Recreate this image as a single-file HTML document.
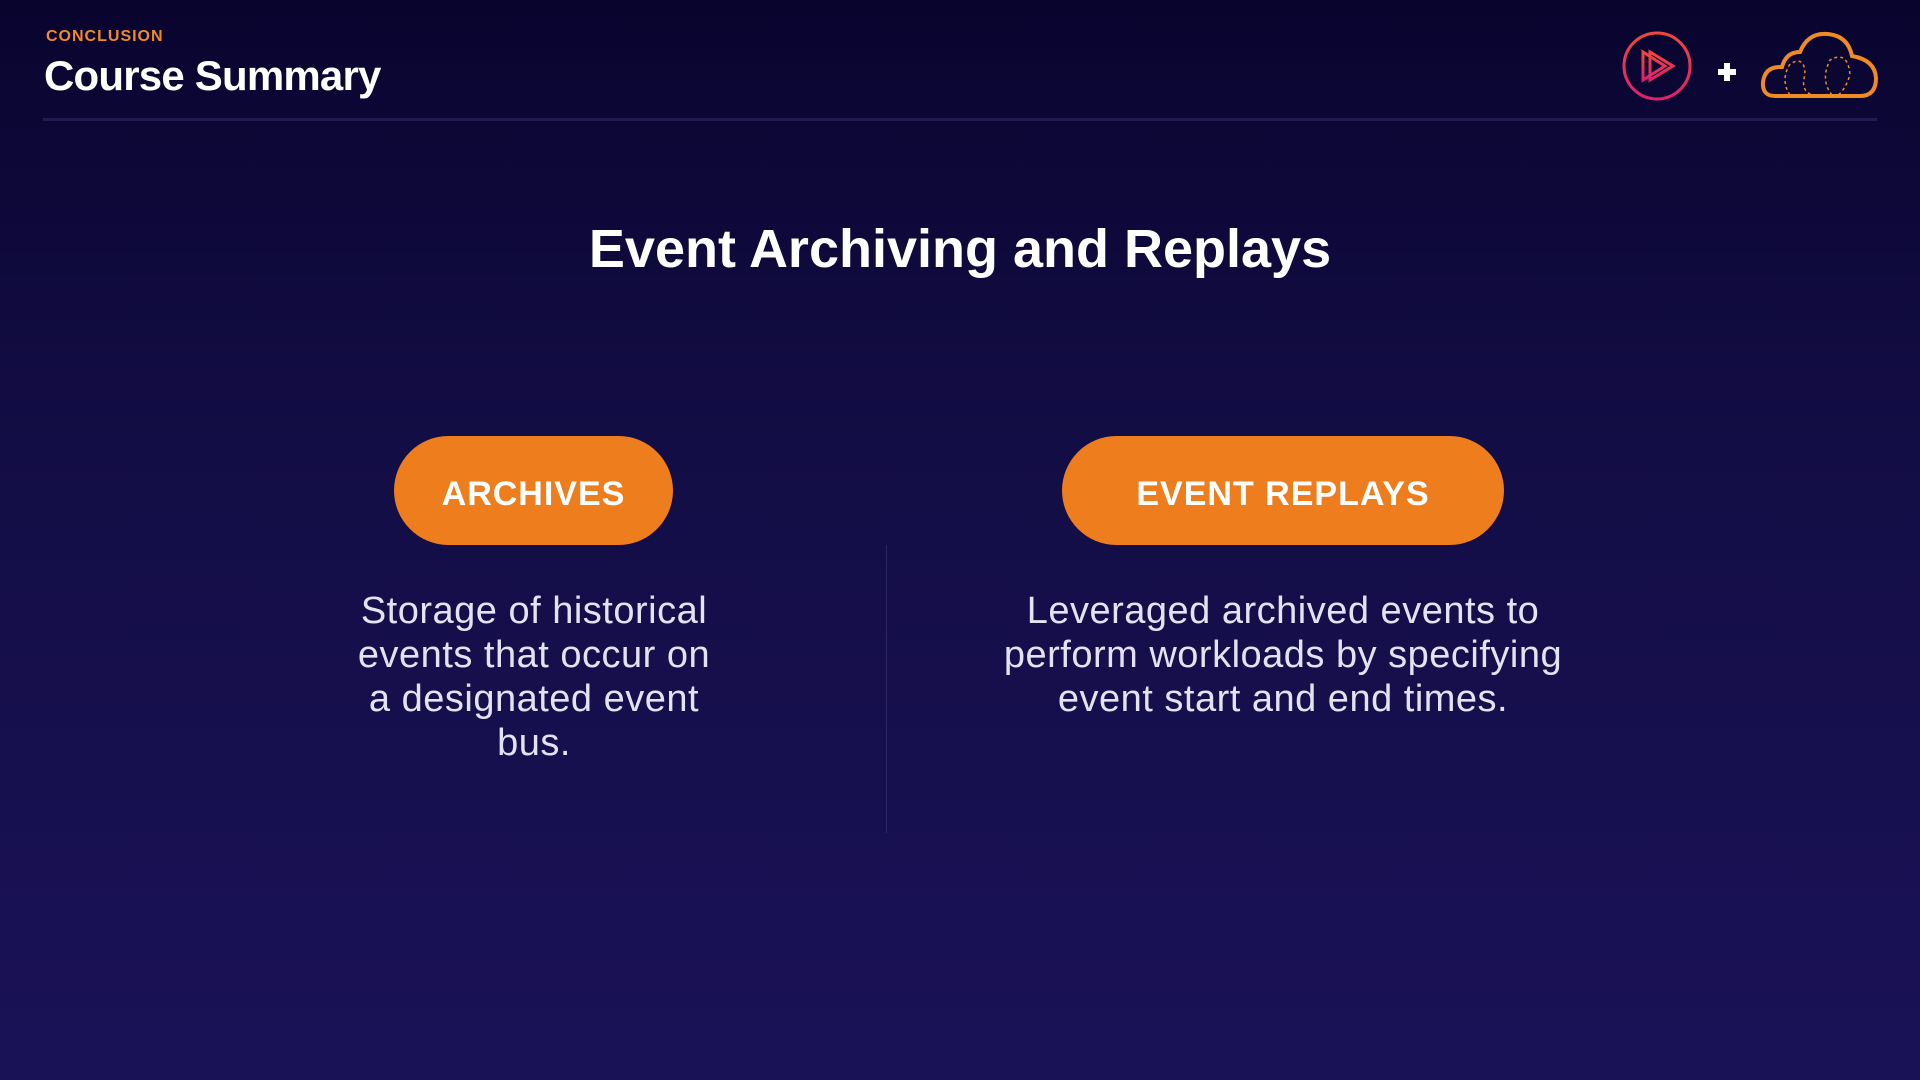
<!DOCTYPE html>
<html><head><meta charset="utf-8"><style>
html,body{margin:0;padding:0}
body{width:1920px;height:1080px;position:relative;overflow:hidden;font-family:"Liberation Sans",sans-serif;background:linear-gradient(180deg,#09042e 0%,#130d45 40%,#1a1257 100%);color:#fff}
.a{position:absolute}
.pill{position:absolute;background:#ee7d1e;border-radius:60px;display:flex;align-items:center;justify-content:center;font-weight:bold;font-size:34px;letter-spacing:1px;color:#fff;padding-top:8px;box-sizing:border-box}
.body{position:absolute;text-align:center;font-size:38px;line-height:44px;color:#e4e2f0;letter-spacing:0.5px}
</style></head><body>
<div class="a" style="left:46px;top:28px;font-size:16px;font-weight:bold;color:#f08a2a;letter-spacing:1px">CONCLUSION</div>
<div class="a" style="left:44px;top:52px;font-size:42px;font-weight:bold;letter-spacing:-0.8px">Course Summary</div>
<div class="a" style="left:43px;top:118px;width:1834px;height:3px;background:#221b52"></div>
<svg class="a" style="left:1620px;top:28px" width="270" height="80" viewBox="1620 28 270 80">
<defs><linearGradient id="g" x1="0" y1="0" x2="0" y2="1"><stop offset="0" stop-color="#f0483c"/><stop offset="1" stop-color="#e0206c"/></linearGradient></defs>
<circle cx="1657" cy="66" r="33" fill="none" stroke="url(#g)" stroke-width="3"/>
<path d="M1643 52 L1643 80 L1665 66 Z M1650 52 L1650 80 L1673 66 Z" fill="none" stroke="url(#g)" stroke-width="3"/>
<path d="M1718 72 h18 M1727 63 v18" stroke="#fff" stroke-width="6"/>
<path d="M1775 96 Q1762 96 1763 82 Q1765 66 1782 67 Q1786 52 1800 52 Q1808 32 1828 34 Q1848 36 1852 56 Q1875 60 1876 78 Q1876 96 1860 96 Z" fill="none" stroke="#f08a22" stroke-width="4"/>
<path d="M1790 95 Q1780 80 1790 64 Q1805 55 1805 75 Q1800 90 1812 95 M1832 95 Q1820 80 1830 60 Q1848 50 1850 75 Q1845 90 1838 95" fill="none" stroke="#f08a22" stroke-width="1.5" stroke-dasharray="3 3"/>
</svg>
<div class="a" style="left:0;width:1920px;top:218px;text-align:center;font-size:54px;font-weight:bold">Event Archiving and Replays</div>
<div class="pill" style="left:394px;top:436px;width:279px;height:109px">ARCHIVES</div>
<div class="pill" style="left:1062px;top:436px;width:442px;height:109px">EVENT REPLAYS</div>
<div class="a" style="left:886px;top:545px;width:1px;height:288px;background:#2c2560"></div>
<div class="body" style="left:344px;width:380px;top:589px">Storage of historical events that occur on a designated event bus.</div>
<div class="body" style="left:963px;width:640px;top:589px">Leveraged archived events to perform workloads by specifying event start and end times.</div>
</body></html>
